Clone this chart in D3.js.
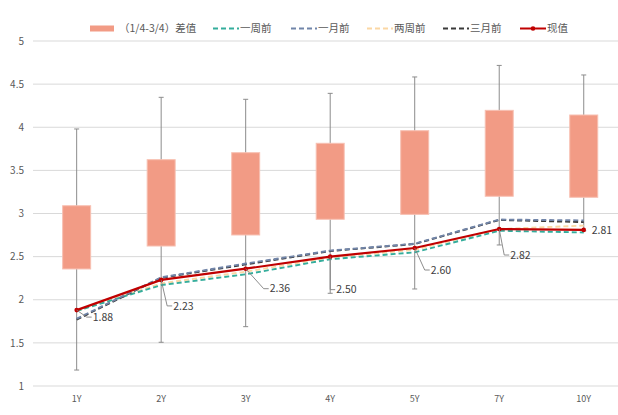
<!DOCTYPE html>
<html><head><meta charset="utf-8">
<script src="https://cdn.jsdelivr.net/npm/d3@7"></script>
<style>
body{margin:0;background:#fff;}
svg{display:block;font-family:"Noto Sans CJK SC","Noto Sans",sans-serif;}
</style></head>
<body><svg id="c" width="618" height="415"></svg>
<script>
const categories = ["1Y","2Y","3Y","4Y","5Y","7Y","10Y"];
const boxMin = [1.185,1.507,1.688,2.075,2.125,2.635,2.80];
const boxQ1  = [2.357,2.623,2.751,2.933,2.99,3.20,3.188];
const boxQ3  = [3.09,3.624,3.705,3.814,3.96,4.196,4.142];
const boxMax = [3.98,4.347,4.324,4.393,4.583,4.717,4.606];
const weekAgo   = [1.87,2.17,2.295,2.47,2.55,2.80,2.78];
const monthAgo  = [1.78,2.26,2.42,2.57,2.65,2.93,2.92];
const twoWeekAgo= [1.87,2.19,2.325,2.49,2.58,2.82,2.86];
const threeMonthAgo=[1.77,2.255,2.41,2.565,2.646,2.925,2.90];
const current   = [1.88,2.23,2.36,2.50,2.60,2.82,2.81];
const yTicks = [1,1.5,2,2.5,3,3.5,4,4.5,5];
const legendNames = ["（1/4-3/4）差值","一周前","一月前","两周前","三月前","现值"];

const svg = d3.select("#c");
const x = d3.scaleBand().domain(categories).range([34.4,626]).padding(0);
const y = d3.scaleLinear().domain([1,5]).range([386,41]);
const cx = c => x(c) + x.bandwidth()/2;

// gridlines
svg.append("g").selectAll("line").data(yTicks).join("line")
  .attr("x1",33).attr("x2",618).attr("y1",d=>y(d)).attr("y2",d=>y(d))
  .attr("stroke","#d9d9d9").attr("stroke-width",1);

// y axis labels
const yAxis = d3.axisLeft(y).tickValues(yTicks).tickSize(0).tickPadding(0).tickFormat(d=>d3.format("")(d));
const ya = svg.append("g").attr("transform","translate(24,0)").call(yAxis);
ya.select(".domain").remove();
ya.selectAll("text").attr("fill","#595959").style("font-size","10px").style("font-family","'Noto Sans CJK SC',sans-serif");

// x axis labels
const xAxis = d3.axisBottom(x).tickSize(0).tickPadding(0);
const xa = svg.append("g").attr("transform","translate(0,396)").call(xAxis);
xa.select(".domain").remove();
xa.selectAll("text").attr("fill","#595959").style("font-size","9px").style("font-family","'Noto Sans CJK SC',sans-serif");

// whiskers
const wg = svg.append("g").attr("stroke","#8c8c8c").attr("stroke-width",1);
categories.forEach((c,i)=>{
  wg.append("line").attr("x1",cx(c)).attr("x2",cx(c)).attr("y1",y(boxMax[i])).attr("y2",y(boxMin[i]));
  wg.append("line").attr("x1",cx(c)-2.5).attr("x2",cx(c)+2.5).attr("y1",y(boxMax[i])).attr("y2",y(boxMax[i]));
  wg.append("line").attr("x1",cx(c)-2.5).attr("x2",cx(c)+2.5).attr("y1",y(boxMin[i])).attr("y2",y(boxMin[i]));
});
// boxes
const bw = 28;
svg.append("g").selectAll("rect").data(categories).join("rect")
  .attr("x",c=>cx(c)-bw/2).attr("width",bw)
  .attr("y",(c,i)=>y(boxQ3[i])).attr("height",(c,i)=>y(boxQ1[i])-y(boxQ3[i]))
  .attr("fill","#f29b85").attr("stroke","#f7c0b2").attr("stroke-width",1);

// lines
const line = d3.line().x((d,i)=>cx(categories[i])).y(d=>y(d));
const dashed = [
  {v:twoWeekAgo,c:"#fbd7a4"},
  {v:weekAgo,c:"#34ad9c"},
  {v:threeMonthAgo,c:"#3a3a3a"},
  {v:monthAgo,c:"#7185a9"}
];
dashed.forEach(s=>{
  svg.append("path").attr("d",line(s.v)).attr("fill","none").attr("stroke",s.c)
    .attr("stroke-width",1.9).attr("stroke-dasharray","5,3");
});
svg.append("path").attr("d",line(current)).attr("fill","none").attr("stroke","#c00000").attr("stroke-width",2.2);
svg.append("g").selectAll("circle").data(current).join("circle")
  .attr("cx",(d,i)=>cx(categories[i])).attr("cy",d=>y(d)).attr("r",2.3).attr("fill","#c00000");

// data labels with leader lines (offsets in px)
const labelOffsets = [[10,7,22],[6,26,12],[18,20,22],[0,33,10],[10,22,16],[5,26,11],null];
const lg = svg.append("g");
current.forEach((v,i)=>{
  const px = cx(categories[i]), py = y(v);
  const o = labelOffsets[i];
  if(o){
    const ex = px+o[0], ey = py+o[1];
    lg.append("path").attr("d",`M${px},${py}L${ex},${ey}L${ex+5},${ey}`)
      .attr("fill","none").attr("stroke","#808080").attr("stroke-width",0.9);
    lg.append("text").attr("x",ex+6).attr("y",ey).attr("dy","0.35em")
      .attr("fill","#404040").style("font-size","10.5px").text(d3.format(".2f")(v));
  } else {
    lg.append("text").attr("x",px+8).attr("y",py).attr("dy","0.35em")
      .attr("fill","#404040").style("font-size","10.5px").text(d3.format(".2f")(v));
  }
});

// legend
const leg = svg.append("g").style("font-size","10.5px").attr("fill","#595959");
const legY = 28.5;
leg.append("rect").attr("x",90).attr("y",legY-3).attr("width",24).attr("height",6).attr("fill","#f29b85");
leg.append("text").attr("x",119).attr("y",legY).attr("dy","0.35em").text(legendNames[0]);
const legItems = [
  {x:213,c:"#34ad9c",n:legendNames[1],dash:true},
  {x:291,c:"#7185a9",n:legendNames[2],dash:true},
  {x:367,c:"#fbd7a4",n:legendNames[3],dash:true},
  {x:443,c:"#3a3a3a",n:legendNames[4],dash:true},
  {x:520,c:"#c00000",n:legendNames[5],dash:false}
];
legItems.forEach(it=>{
  leg.append("line").attr("x1",it.x).attr("x2",it.x+26).attr("y1",legY).attr("y2",legY)
    .attr("stroke",it.c).attr("stroke-width",it.dash?1.9:2)
    .attr("stroke-dasharray",it.dash?"5,3":null);
  if(!it.dash) leg.append("circle").attr("cx",it.x+13).attr("cy",legY).attr("r",2.3).attr("fill",it.c);
  leg.append("text").attr("x",it.x+27).attr("y",legY).attr("dy","0.35em").text(it.n);
});
</script></body></html>
